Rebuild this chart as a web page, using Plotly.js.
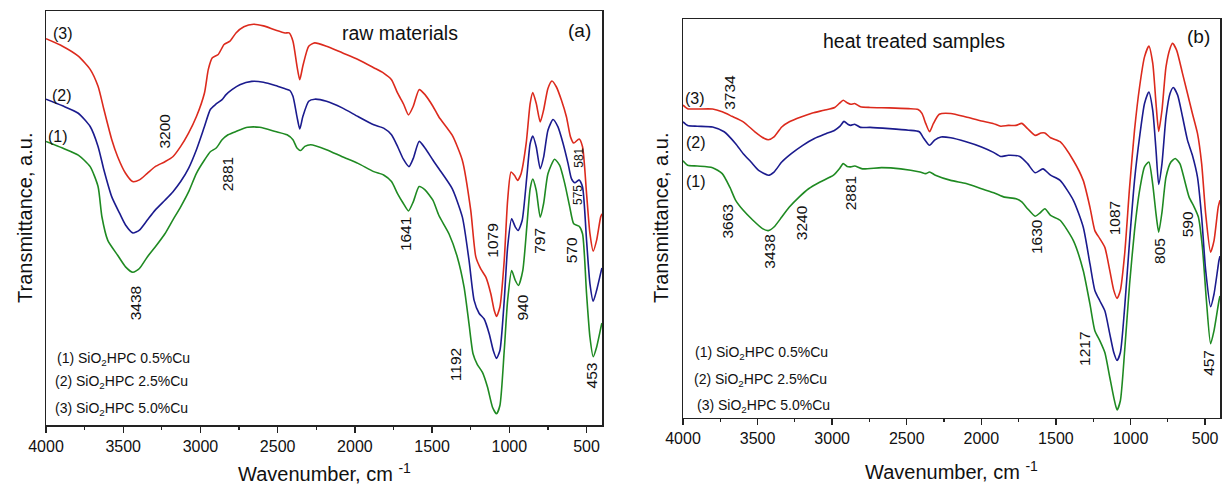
<!DOCTYPE html>
<html>
<head>
<meta charset="utf-8">
<script src="https://cdn.plot.ly/plotly-3.0.1.min.js"></script>
<style>html,body{margin:0;padding:0;background:#fff;}#chart{width:1223px;height:490px;}</style>
</head>
<body>
<div id="chart"></div>
<script>
// ---------- Panel (a): raw materials ----------
const a_wn3 = [4000,3893,3791,3714,3663,3625,3574,3536,3485,3439,3395,3344,3293,3230,3179,3128,3077,3026,2974,2949,2923,2885,2847,2809,2770,2719,2656,2592,2515,2452,2426,2401,2375,2357,2337,2299,2260,2184,2082,1980,1878,1814,1763,1724,1686,1653,1622,1584,1546,1495,1456,1370,1304,1250,1217,1185,1152,1120,1098,1083,1061,1033,1011,989,967,946,924,891,865,848,826,800,778,750,724,696,663,630,604,583,548,526,500,478,457,435,409,400];
const a_t3  = [93.3,91.5,89.1,85.9,81.8,76.2,68.9,64.8,60.8,58.8,59.2,60.8,62.4,63.6,64.8,67.3,70.5,74.5,80.2,85.9,88.7,89.5,91.9,92.7,94.7,96.2,96.8,96.4,95.4,94.7,94.7,92.7,86.7,83.4,86.7,91.5,92.3,91.5,89.9,88.3,86.3,85.0,83.4,80.2,77.6,74.9,77.0,81.0,79.8,77.0,74.4,70.0,63.9,51.9,40.6,37.7,35.7,31.7,27.7,26.2,28.5,39.8,54.3,61.1,60.3,59.1,60.7,68.0,77.7,80.3,77.7,73.2,76.1,81.3,83.1,81.7,78.5,74.4,69.6,68.1,69.1,67.2,55.9,46.2,42.0,44.6,50.2,51.0];
const a_wn2 = [4000,3893,3791,3714,3663,3625,3574,3523,3485,3438,3395,3344,3293,3230,3179,3128,3077,3026,2974,2936,2903,2860,2834,2796,2745,2668,2592,2515,2452,2421,2401,2375,2357,2337,2299,2260,2184,2082,1980,1878,1814,1763,1724,1686,1650,1622,1584,1546,1495,1456,1370,1304,1261,1228,1196,1163,1130,1104,1083,1061,1033,1011,985,961,943,917,887,865,848,826,800,778,750,717,685,652,620,598,576,548,526,500,478,457,435,402,400];
const a_t2  = [78.7,77.1,75.3,72.1,67.3,61.6,55.1,51.1,48.3,46.4,47.1,49.5,51.9,54.3,56.3,58.8,62.0,66.5,72.1,76.2,77.4,78.6,79.8,81.0,82.2,83.0,82.8,82.0,81.2,80.8,79.4,74.5,71.5,74.5,78.2,78.7,78.2,76.6,74.5,72.5,71.7,70.1,67.3,64.2,62.4,64.4,68.5,66.9,64.0,61.9,57.1,50.2,39.8,30.1,27.0,25.6,22.0,18.0,16.1,18.0,30.1,43.0,49.8,47.8,47.0,49.4,59.9,68.0,69.8,67.2,61.9,64.7,71.2,73.8,72.0,68.0,63.2,59.5,58.5,59.2,57.5,44.6,34.1,29.9,32.5,37.7,37.9];
const a_wn1 = [4000,3893,3791,3714,3663,3638,3600,3536,3485,3438,3395,3344,3293,3230,3179,3128,3077,3026,2974,2936,2898,2860,2821,2770,2694,2617,2515,2439,2401,2375,2350,2324,2286,2184,2082,1980,1878,1814,1763,1724,1686,1653,1622,1584,1546,1495,1456,1391,1337,1293,1261,1235,1207,1174,1141,1109,1083,1061,1033,1011,985,961,941,913,887,865,848,826,800,778,750,707,674,641,609,583,548,526,500,478,457,435,402,400];
const a_t1  = [68.5,66.9,65.2,62.4,57.6,50.3,44.6,41.0,38.2,36.9,37.8,40.6,43.0,46.2,49.5,52.7,56.3,60.8,64.0,66.0,66.9,68.9,70.1,70.9,71.9,71.9,70.9,70.1,68.9,66.9,66.3,67.3,67.7,66.5,64.8,63.2,61.2,60.4,58.8,55.9,53.5,51.7,53.9,57.6,56.8,54.3,50.6,46.2,40.6,33.3,24.4,17.2,14.6,12.7,9.1,4.3,2.7,4.7,18.0,30.1,37.3,34.9,33.7,37.3,47.8,57.1,59.4,56.7,50.2,53.5,60.7,64.2,62.7,58.3,52.7,48.6,48.0,46.2,31.7,21.2,16.5,18.8,24.4,24.6];

// ---------- Panel (b): heat treated samples ----------
const b_wn3 = [4000,3969,3905,3802,3737,3673,3596,3518,3454,3428,3390,3338,3287,3209,3132,3055,2983,2952,2926,2900,2875,2849,2810,2746,2617,2488,2424,2398,2373,2347,2321,2282,2205,2102,1999,1922,1870,1819,1767,1729,1690,1639,1600,1574,1536,1472,1383,1317,1272,1239,1206,1172,1139,1112,1090,1068,1039,1006,973,939,906,877,851,829,811,789,762,735,718,691,651,618,585,551,523,496,463,440,412,400];
const b_t3  = [78.4,77.5,77.4,77.4,76.7,75.6,74.2,71.7,70.0,69.7,70.4,72.9,74.2,75.4,76.4,77.1,77.8,78.8,79.6,79.0,78.6,78.8,78.0,77.8,77.7,77.5,77.3,76.3,73.8,71.7,73.8,76.1,76.3,75.4,74.4,73.8,73.1,73.3,73.3,73.8,72.5,70.8,71.4,71.4,70.2,69.2,64.5,59.5,52.8,46.9,44.9,42.7,36.9,31.9,29.9,31.9,41.1,57.8,72.1,83.0,90.5,93.2,88.9,78.8,71.8,77.1,88.0,92.6,93.9,92.2,86.3,81.3,76.3,71.3,63.7,51.1,41.5,44.4,52.8,54.5];
const b_wn2 = [4000,3969,3905,3802,3724,3647,3596,3544,3493,3428,3390,3338,3274,3197,3119,3042,2983,2947,2921,2895,2875,2849,2810,2746,2617,2488,2416,2385,2347,2313,2270,2205,2102,1999,1922,1870,1819,1742,1690,1639,1587,1536,1472,1383,1317,1272,1239,1206,1172,1139,1112,1090,1068,1039,1006,973,939,906,877,851,829,811,789,762,735,713,684,651,618,585,551,523,496,463,440,407,400];
const b_t2  = [74.2,73.3,73.1,72.9,71.7,68.7,66.2,64.1,62.0,60.8,61.6,64.1,66.2,68.3,70.0,71.2,72.1,73.1,74.3,73.6,73.3,73.6,72.8,72.8,72.5,72.1,71.7,70.0,68.3,69.6,70.4,70.2,69.2,67.9,66.6,65.5,65.8,65.5,63.7,61.4,62.4,60.8,59.5,54.5,47.8,38.6,31.9,29.3,26.8,21.0,16.3,14.3,16.3,27.7,44.4,59.5,70.4,78.8,81.7,77.1,67.1,58.5,63.7,75.4,81.3,82.8,80.9,75.4,69.6,65.8,60.3,50.3,36.9,27.8,31.0,39.4,40.5];
const b_wn1 = [4000,3969,3905,3802,3737,3686,3647,3596,3531,3467,3428,3390,3338,3287,3222,3158,3081,2991,2952,2926,2900,2875,2849,2797,2669,2540,2411,2373,2347,2308,2205,2102,1999,1909,1845,1767,1729,1690,1639,1608,1574,1536,1472,1383,1317,1272,1239,1206,1172,1139,1112,1090,1068,1039,1006,973,939,906,877,851,829,811,789,762,729,700,669,640,607,573,545,518,491,463,440,407,400];
const b_t1  = [64.4,63.3,63.1,62.7,61.2,57.8,54.5,52.0,49.5,47.4,46.9,47.8,50.3,52.8,55.3,57.4,59.1,60.8,62.4,63.7,63.0,62.9,63.1,62.4,62.7,62.4,61.6,61.2,61.6,60.8,59.5,58.7,57.4,56.3,55.3,54.9,54.1,52.4,50.5,51.3,52.4,50.7,49.5,44.4,36.9,28.5,21.8,19.3,16.3,10.1,5.0,1.9,4.2,16.8,33.5,46.9,57.0,62.9,64.1,58.5,51.1,46.5,51.5,60.3,64.1,65.0,63.7,59.9,55.3,52.8,50.3,42.7,29.3,18.5,21.8,29.3,30.5];

const seriesNames = ['(1) SiO<sub>2</sub>HPC 0.5%Cu','(2) SiO<sub>2</sub>HPC 2.5%Cu','(3) SiO<sub>2</sub>HPC 5.0%Cu'];
const xTicks = [4000,3500,3000,2500,2000,1500,1000,500];

// ---------- styling ----------
const FONT = 'Liberation Sans, Arial, sans-serif';
const COL = {r:'#dc2a1d', b:'#1b1b8e', g:'#1f8a22'};
const LW = 1.6;
const W = 1223, H = 490;
const px = v => v / W, py = v => 1 - v / H;

function tr(x, y, c, xa, ya){
  return {x:x, y:y, type:'scatter', mode:'lines', xaxis:xa, yaxis:ya,
          line:{color:c, width:LW, shape:'spline', smoothing:0.6}, hoverinfo:'skip', showlegend:false};
}
const data = [
  tr(a_wn1,a_t1,COL.g,'x','y'), tr(a_wn2,a_t2,COL.b,'x','y'), tr(a_wn3,a_t3,COL.r,'x','y'),
  tr(b_wn1,b_t1,COL.g,'x2','y2'), tr(b_wn2,b_t2,COL.b,'x2','y2'), tr(b_wn3,b_t3,COL.r,'x2','y2')
];

function xax(dom, anchor){
  return {domain:dom, anchor:anchor, range:[4000,400], tickvals:xTicks, ticktext:xTicks.map(String),
    ticks:'outside', ticklen:6, tickwidth:1.4, tickcolor:'#222',
    minor:{tickvals:[3750,3250,2750,2250,1750,1250,750], ticks:'outside', ticklen:3, tickwidth:1.2, tickcolor:'#222', showgrid:false},
    showline:true, mirror:true, linecolor:'#222', linewidth:1.5, showgrid:false, zeroline:false,
    tickfont:{family:FONT, size:16, color:'#111'}, fixedrange:true};
}
function yax(dom, anchor){
  return {domain:dom, anchor:anchor, range:[0,100], showticklabels:false, ticks:'',
    showline:true, mirror:true, linecolor:'#222', linewidth:1.5, showgrid:false, zeroline:false, fixedrange:true};
}

const ann = [];
function lab(xr, yr, x, y, t, size, angle, xanchor){
  ann.push({xref:xr, yref:yr, x:x, y:y, text:t, showarrow:false, textangle:angle||0,
    xanchor:xanchor||'center', yanchor:'middle', font:{family:FONT, size:size, color:'#111'}});
}
// panel (a) texts
lab('x','y',3892,94.6,'(3)',16); lab('x','y',3898,79.7,'(2)',16); lab('x','y',3920,69.8,'(1)',16);
lab('x','y',1711,94.6,'raw materials',19.5); lab('x','y',543,95.4,'(a)',19);
[['3200',3230,71.1],['2881',2827,60.6],['3438',3421,29.5],['1641',1673,46.2],['1079',1109,44.4],
 ['1192',1348,14.6],['940',913,28.3],['797',804,44.4],['570',598,42.3],['453',467,11.9]]
 .forEach(p => lab('x','y',p[1],p[2],p[0],15.5,-90));
lab('x','y',554,64.6,'581',12,-90); lab('x','y',554,55.6,'575',12,-90);
lab('x','y',3942,16.0,seriesNames[0],14,0,'left');
lab('x','y',3953,10.3,seriesNames[1],14,0,'left');
lab('x','y',3957,3.9,seriesNames[2],14,0,'left');
// panel (b) texts
lab('x2','y2',3918,80.1,'(3)',16); lab('x2','y2',3911,69.1,'(2)',16); lab('x2','y2',3916,59.1,'(1)',16);
lab('x2','y2',2454,94.5,'heat treated samples',19.5); lab('x2','y2',542,95.5,'(b)',19);
[['3734',3684,81.5],['3663',3704,49.2],['3438',3421,41.7],['3240',3209,49.0],['2881',2875,56.2],
 ['1630',1626,45.3],['1087',1106,49.9],['1217',1305,17.2],['805',806,41.9],['590',618,48.6],['457',474,13.7]]
 .forEach(p => lab('x2','y2',p[1],p[2],p[0],15.5,-90));
lab('x2','y2',3936,16.2,seriesNames[0],14,0,'left');
lab('x2','y2',3943,9.5,seriesNames[1],14,0,'left');
lab('x2','y2',3918,2.8,seriesNames[2],14,0,'left');
// axis titles
lab('paper','paper',px(324),py(472),'Wavenumber, cm <sup>-1</sup>',20);
lab('paper','paper',px(951),py(470),'Wavenumber, cm <sup>-1</sup>',20);
lab('paper','paper',px(25),py(218),'Transmittance, a.u.',20,-90);
lab('paper','paper',px(661),py(218),'Transmittance, a.u.',20,-90);

const layout = {
  width:W, height:H, margin:{l:0,r:0,t:0,b:0}, paper_bgcolor:'#fff', plot_bgcolor:'#fff',
  showlegend:false, font:{family:FONT},
  xaxis: xax([px(46), px(602)], 'y'),
  yaxis: yax([py(425), py(11)], 'x'),
  xaxis2: xax([px(683), px(1220)], 'y2'),
  yaxis2: yax([py(417.5), py(19)], 'x2'),
  annotations: ann
};
Plotly.newPlot('chart', data, layout, {staticPlot:true, displayModeBar:false});
</script>
</body>
</html>
